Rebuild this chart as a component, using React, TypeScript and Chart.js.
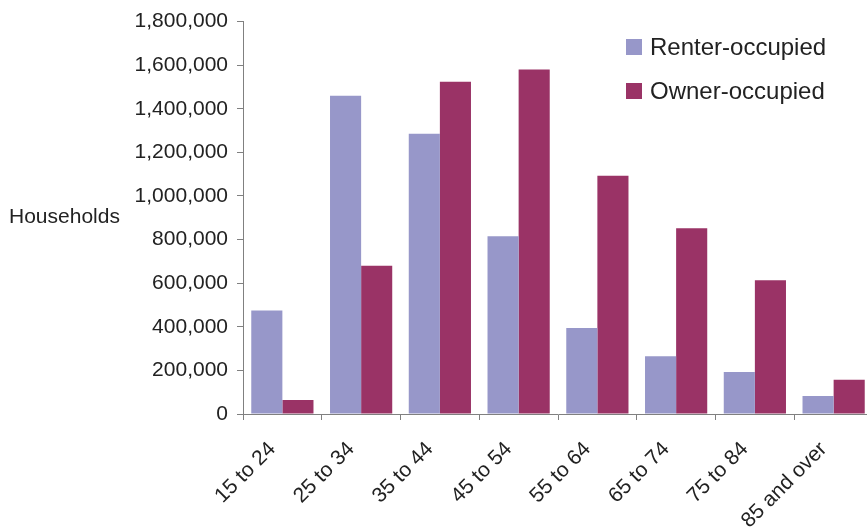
import React, { useEffect, useRef } from "react";
import { Chart, registerables } from "chart.js";

Chart.register(...registerables);

const categories = ["15 to 24", "25 to 34", "35 to 44", "45 to 54", "55 to 64", "65 to 74", "75 to 84", "85 and over"];
const renterValues = [475000, 1460000, 1285000, 815000, 395000, 265000, 193000, 83000];
const ownerValues = [64000, 680000, 1524000, 1580000, 1093000, 852000, 613000, 157000];
const seriesNames = ["Renter-occupied", "Owner-occupied"];
const yAxisTitle = "Households";

const FONT = "'Liberation Sans', Arial, sans-serif";
const TEXT = "#222222";
const AXIS = "#808080";

const overlayPlugin = {
  id: "overlay",
  afterDraw(chart: any) {
    const ctx = chart.ctx;
    ctx.save();
    ctx.font = `21px ${FONT}`;
    ctx.fillStyle = TEXT;
    ctx.textBaseline = "middle";
    ctx.textAlign = "left";
    ctx.fillText(yAxisTitle, 9, 217);

    // rotated category labels
    const xs = chart.scales.x;
    const labels: string[] = chart.data.labels;
    ctx.textAlign = "right";
    labels.forEach((lab, i) => {
      const px = xs.getPixelForValue(i);
      ctx.save();
      ctx.translate(px - 10, xs.top + 32);
      ctx.rotate(-Math.PI / 4);
      ctx.fillText(lab, 0, 0);
      ctx.restore();
    });

    // legend
    const ds = chart.data.datasets;
    const lx = 626;
    const ly = [47, 91];
    ctx.textAlign = "left";
    ctx.font = `24px ${FONT}`;
    ds.forEach((d: any, i: number) => {
      ctx.fillStyle = d.backgroundColor;
      ctx.fillRect(lx, ly[i] - 8, 16, 16);
      ctx.fillStyle = TEXT;
      ctx.fillText(d.label, lx + 24, ly[i] + 1);
    });
    ctx.restore();
  },
};

export default function App() {
  const ref = useRef<HTMLCanvasElement>(null);
  useEffect(() => {
    if (!ref.current) return;
    const chart = new Chart(ref.current, {
      type: "bar",
      data: {
        labels: categories,
        datasets: [
          { label: seriesNames[0], data: renterValues, backgroundColor: "#9797c9" },
          { label: seriesNames[1], data: ownerValues, backgroundColor: "#9a3366" },
        ],
      },
      options: {
        responsive: false,
        animation: false,
        layout: { padding: { top: 21, left: 0, right: 0, bottom: 0 } },
        plugins: { legend: { display: false }, tooltip: { enabled: false } },
        datasets: { bar: { categoryPercentage: 0.79, barPercentage: 1.0 } },
        scales: {
          x: {
            grid: { display: true, drawOnChartArea: false, drawTicks: true, tickLength: 6, color: AXIS, offset: true },
            border: { display: true, color: AXIS, width: 1 },
            ticks: { display: false },
            afterFit: (scale: any) => {
              scale.height = 113;
            },
          },
          y: {
            min: 0,
            max: 1800000,
            grid: { display: true, drawOnChartArea: false, drawTicks: true, tickLength: 6, color: AXIS },
            border: { display: true, color: AXIS, width: 1 },
            ticks: {
              stepSize: 200000,
              color: TEXT,
              font: { family: FONT, size: 21 },
              padding: 9,
              callback: (v: any) => Number(v).toLocaleString("en-US"),
            },
            afterFit: (scale: any) => {
              scale.width = 243;
            },
          },
        },
      },
      plugins: [overlayPlugin],
    });
    return () => chart.destroy();
  }, []);
  return (
    <div style={{ position: "fixed", left: 0, top: 0, width: 867, height: 527, overflow: "hidden", background: "#fff" }}>
      <canvas ref={ref} width={873} height={527} style={{ display: "block" }} />
    </div>
  );
}
